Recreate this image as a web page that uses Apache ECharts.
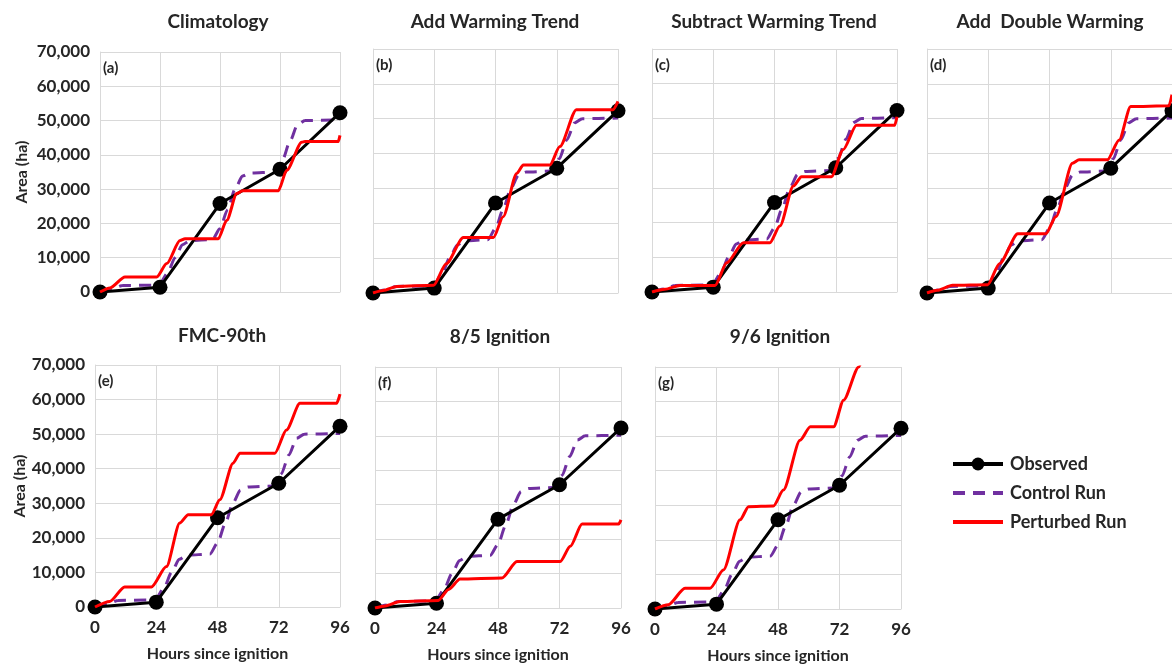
<!DOCTYPE html>
<html>
<head>
<meta charset="utf-8">
<script src="https://cdn.jsdelivr.net/npm/echarts@6/dist/echarts.min.js"></script>
<style>html,body{margin:0;padding:0;background:#fff}#chart{width:1172px;height:668px}</style>
</head>
<body>
<div id="chart"></div>
<script>
// ---- data ----
const panelTitles = ['Climatology', 'Add Warming Trend', 'Subtract Warming Trend', 'Add  Double Warming', 'FMC-90th', '8/5 Ignition', '9/6 Ignition'];
const panelKeys = ['(a)', '(b)', '(c)', '(d)', '(e)', '(f)', '(g)'];
const hourTicks = [0, 24, 48, 72, 96];
const observedHours = [0, 24, 48, 72, 96];
const observedArea = [0, 1400, 25800, 35800, 52300];
const controlRun = [[0,0],[5,900],[9,1900],[21,2000],[24,2600],[27,5500],[30,10000],[33,13800],[36,15000],[45,15300],[48,18500],[51,24000],[54,30000],[57,33800],[60,34700],[70,35000],[73,38500],[76,44000],[79,48800],[82,50000],[96,50200]];
const perturbedA = [[0,0],[4,1200],[10,4400],[22.7,4400],[26.7,8300],[32,15000],[34,15500],[47.3,15500],[50.7,20900],[54.7,28700],[57,29500],[71.3,29500],[74.7,35500],[80.7,43700],[82,43900],[95.3,43900],[96,45700]];
const perturbedB = [[0,0],[4,700],[9.4,1900],[23.7,2200],[28.7,8400],[35.4,15900],[47.2,15900],[51,21900],[56.3,34300],[58.9,36700],[69.3,36700],[73.2,42000],[79.7,52600],[94,52600],[96,55000]];
const perturbedC = [[0,0],[5,800],[11,1900],[24.7,1900],[29.3,8400],[35.8,14200],[46.2,14200],[50.1,19000],[55.4,30500],[58.6,33200],[70.3,33200],[74.9,41000],[80.1,48000],[95.1,48000],[96,50500]];
const perturbedD = [[0,0],[4,800],[10,2200],[23.8,2400],[28.4,8400],[35.6,17000],[46.6,17000],[50.5,21900],[57,37200],[59.6,38200],[70.7,38200],[75.3,43900],[79.8,53500],[94.8,53700],[96,56900]];
const perturbedE = [[0,0],[5.8,1600],[11.6,5800],[22.1,5800],[28,11700],[33.2,24300],[36.5,26700],[45.6,26700],[48.9,31000],[54.1,41600],[56.8,44500],[70.5,44500],[75,51200],[80.3,58900],[94.7,58900],[96,61600]];
const perturbedF = [[0,0],[4,600],[9.8,1900],[24.7,2200],[28.7,5400],[33.2,8400],[49.5,8700],[55.4,13500],[72.3,13500],[76.2,17900],[80.8,24400],[95.1,24400],[96,25600]];
const perturbedG = [[0,0],[5.2,1250],[11.7,6000],[21.5,6000],[26.7,11300],[33.2,25800],[36.5,29600],[46.2,29800],[50.1,34400],[56.6,48800],[60.6,52700],[69.7,52700],[73.6,60400],[79.5,70000],[83,78000]];
const perturbedRuns = [perturbedA, perturbedB, perturbedC, perturbedD, perturbedE, perturbedF, perturbedG];
const seriesNames = ['Observed', 'Control Run', 'Perturbed Run'];

// ---- layout ----
const layout = [
  {left:100, top:52, width:240, height:240, yLab:true,  xLab:false, tx:218, ty:22},
  {left:373, top:49, width:245, height:244, yLab:false, xLab:false, tx:495, ty:22},
  {left:652, top:49, width:245, height:243, yLab:false, xLab:false, tx:774, ty:22},
  {left:927, top:49, width:245, height:244, yLab:false, xLab:false, tx:1050, ty:22},
  {left:95,  top:365, width:245, height:242, yLab:true,  xLab:true, tx:222, ty:336},
  {left:375, top:367, width:246, height:241, yLab:false, xLab:true, tx:500, ty:337},
  {left:655, top:367, width:246, height:242, yLab:false, xLab:true, tx:780, ty:337}
];

const FONT = 'Lato, "Open Sans", sans-serif';
const TXT = '#262626';
const GRIDC = '#d9d9d9';

const grids = [], xAxes = [], yAxes = [], series = [], graphics = [];
layout.forEach((L, i) => {
  grids.push({left:L.left, top:L.top, width:L.width, height:L.height, containLabel:false});
  xAxes.push({
    type:'value', gridIndex:i, min:hourTicks[0], max:hourTicks[hourTicks.length-1], interval:24,
    axisLine:{show:true, lineStyle:{color:GRIDC, width:1}},
    axisTick:{show:false},
    splitLine:{show:true, lineStyle:{color:GRIDC, width:1}},
    axisLabel:{show:L.xLab, color:TXT, fontFamily:FONT, fontWeight:'bold', fontSize:17, margin:12},
    name: L.xLab ? 'Hours since ignition' : '', nameLocation:'middle', nameGap:39,
    nameTextStyle:{color:TXT, fontFamily:FONT, fontWeight:'bold', fontSize:16}
  });
  yAxes.push({
    type:'value', gridIndex:i, min:0, max:70000, interval:10000,
    axisLine:{show:true, lineStyle:{color:GRIDC, width:1}},
    axisTick:{show:false},
    splitLine:{show:true, lineStyle:{color:GRIDC, width:1}},
    axisLabel:{show:L.yLab, color:TXT, fontFamily:FONT, fontWeight:'bold', fontSize:17, margin:10,
      formatter: v => v.toLocaleString('en-US')},
    name: L.yLab ? 'Area (ha)' : '', nameLocation:'middle', nameGap:(i === 0 ? 70 : 65), nameRotate:90,
    nameTextStyle:{color:TXT, fontFamily:FONT, fontWeight:'bold', fontSize:16}
  });
  series.push({
    name:seriesNames[1], type:'line', xAxisIndex:i, yAxisIndex:i, data:controlRun,
    showSymbol:false, symbol:'none', smooth:0.25, smoothMonotone:'x',
    lineStyle:{color:'#7030a0', width:3, type:[12,8]}, itemStyle:{color:'#7030a0'}, z:3
  });
  series.push({
    name:seriesNames[0], type:'line', xAxisIndex:i, yAxisIndex:i,
    data:observedHours.map((h, k) => [h, observedArea[k]]),
    symbol:'circle', symbolSize:15,
    lineStyle:{color:'#000', width:3}, itemStyle:{color:'#000'}, z:4
  });
  series.push({
    name:seriesNames[2], type:'line', xAxisIndex:i, yAxisIndex:i, data:perturbedRuns[i],
    showSymbol:false, symbol:'none', smooth:0.25, smoothMonotone:'x', clip:true,
    lineStyle:{color:'#ff0000', width:3}, itemStyle:{color:'#ff0000'}, z:5
  });
  graphics.push({type:'text', x:L.tx, y:L.ty, style:{text:panelTitles[i], fill:TXT,
    font:'bold 19px ' + FONT, textAlign:'center', textVerticalAlign:'middle'}});
  graphics.push({type:'text', x:L.left + 3, y:L.top + 16, style:{text:panelKeys[i], fill:TXT,
    font:'bold 15px ' + FONT, textAlign:'left', textVerticalAlign:'middle'}});
});

const chart = echarts.init(document.getElementById('chart'));
chart.setOption({
  animation:false,
  backgroundColor:'#fff',
  grid:grids, xAxis:xAxes, yAxis:yAxes, series:series, graphic:graphics,
  legend:{
    data:[
      {name:'Observed'},
      {name:'Control Run', itemStyle:{opacity:0}},
      {name:'Perturbed Run', itemStyle:{opacity:0}}
    ],
    orient:'vertical', left:946, top:450, itemWidth:50, itemHeight:16, itemGap:11,
    lineStyle:{width:4},
    textStyle:{color:TXT, fontFamily:FONT, fontWeight:'bold', fontSize:18, padding:[0,0,0,2]}
  }
});
</script>
</body>
</html>
